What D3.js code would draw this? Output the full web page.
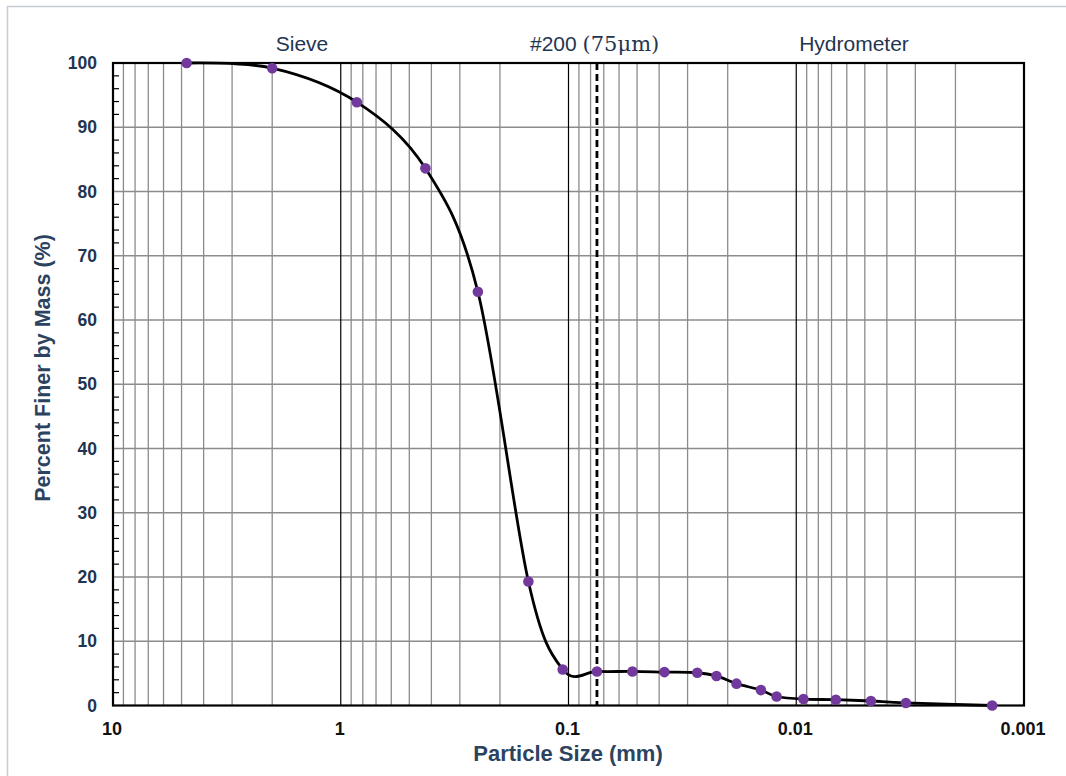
<!DOCTYPE html>
<html>
<head>
<meta charset="utf-8">
<script src="https://cdn.jsdelivr.net/npm/d3@7"></script>
<style>
  body { margin: 0; background: #fff; }
  svg { display: block; font-family: "Liberation Sans", Arial, sans-serif; }
</style>
</head>
<body>
<svg id="chart" width="1066" height="776"></svg>
<script>
// grain size distribution (sieve + hydrometer)
const sizes = [4.75, 2.0, 0.85, 0.425, 0.25, 0.15, 0.106, 0.075,
  0.0524, 0.0379, 0.0272, 0.0224, 0.0183, 0.0143, 0.0122,
  0.0093, 0.0067, 0.0047, 0.0033, 0.00138];
const percentFiner = [100, 99.2, 93.9, 83.6, 64.4, 19.3, 5.6, 5.3,
  5.3, 5.2, 5.1, 4.6, 3.4, 2.4, 1.4,
  1.0, 0.9, 0.7, 0.4, 0];

const xTicks = [10, 1, 0.1, 0.01, 0.001];
const xTickLabels = ["10", "1", "0.1", "0.01", "0.001"];
const yTicks = [0, 10, 20, 30, 40, 50, 60, 70, 80, 90, 100];
const no200 = 0.075;

const svg = d3.select("#chart");
const plotL = 113, plotR = 1024, plotT = 63, plotB = 705.5;

const x = d3.scaleLog().domain([10, 0.001]).range([plotL, plotR]);
const y = d3.scaleLinear().domain([0, 100]).range([plotB, plotT]);

const navy = "#1f3550";

// outer frame
svg.append("rect")
  .attr("x", 7.5).attr("y", 6.5)
  .attr("width", 1080).attr("height", 790)
  .attr("fill", "none").attr("stroke", "#c8ccd4").attr("stroke-width", 1.5);

// vertical grid (minor log lines)
const minor = [];
[1, 0.1, 0.01, 0.001].forEach((k) => {
  for (let m = 2; m <= 9; m++) minor.push(m * k);
});
svg.append("g")
  .selectAll("line")
  .data(minor)
  .join("line")
  .attr("x1", (d) => x(d)).attr("x2", (d) => x(d))
  .attr("y1", plotT).attr("y2", plotB)
  .attr("stroke", "#8c8c8c").attr("stroke-width", 1.3);

// horizontal grid
svg.append("g")
  .selectAll("line")
  .data(yTicks.slice(1, -1))
  .join("line")
  .attr("x1", plotL).attr("x2", plotR)
  .attr("y1", (d) => y(d)).attr("y2", (d) => y(d))
  .attr("stroke", "#8c8c8c").attr("stroke-width", 1.3);

// decade lines
svg.append("g")
  .selectAll("line")
  .data([1, 0.1, 0.01])
  .join("line")
  .attr("x1", (d) => x(d)).attr("x2", (d) => x(d))
  .attr("y1", plotT).attr("y2", plotB)
  .attr("stroke", "#000").attr("stroke-width", 1.2);

// y minor ticks (every 2%)
svg.append("g")
  .selectAll("line")
  .data(d3.range(2, 100, 2).filter((d) => d % 10 !== 0))
  .join("line")
  .attr("x1", plotL).attr("x2", plotL + 6)
  .attr("y1", (d) => y(d)).attr("y2", (d) => y(d))
  .attr("stroke", "#000").attr("stroke-width", 1.2);

// #200 sieve line
svg.append("line")
  .attr("x1", x(no200)).attr("x2", x(no200))
  .attr("y1", plotT).attr("y2", plotB)
  .attr("stroke", "#000").attr("stroke-width", 2.8)
  .attr("stroke-dasharray", "7,4");

// plot border
svg.append("rect")
  .attr("x", plotL).attr("y", plotT)
  .attr("width", plotR - plotL).attr("height", plotB - plotT)
  .attr("fill", "none").attr("stroke", "#000").attr("stroke-width", 2.2);

// gradation curve
const pts = sizes.map((s, i) => [x(s), y(percentFiner[i])]);
svg.append("path")
  .datum(pts)
  .attr("fill", "none")
  .attr("stroke", "#000")
  .attr("stroke-width", 2.8)
  .attr("d", d3.line().curve(d3.curveCardinal.tension(0)));

svg.append("g")
  .selectAll("circle")
  .data(pts)
  .join("circle")
  .attr("cx", (d) => d[0]).attr("cy", (d) => d[1])
  .attr("r", 5.3)
  .attr("fill", "#71399b");

// y tick labels
svg.append("g")
  .selectAll("text")
  .data(yTicks)
  .join("text")
  .attr("x", 97).attr("y", (d) => y(d) + 6)
  .attr("text-anchor", "end")
  .attr("font-size", 17.5).attr("font-weight", "bold")
  .attr("fill", navy)
  .text((d) => d);

// x tick labels
svg.append("g")
  .selectAll("text")
  .data(xTicks)
  .join("text")
  .attr("x", (d) => x(d) - 1).attr("y", 735)
  .attr("text-anchor", "middle")
  .attr("font-size", 18).attr("font-weight", "bold")
  .attr("fill", "#111")
  .text((d, i) => xTickLabels[i]);

// axis titles
svg.append("text")
  .attr("x", 568).attr("y", 761)
  .attr("text-anchor", "middle")
  .attr("font-size", 22).attr("font-weight", "bold")
  .attr("fill", "#2c4360")
  .text("Particle Size (mm)");

svg.append("text")
  .attr("transform", "translate(50,368) rotate(-90)")
  .attr("text-anchor", "middle")
  .attr("font-size", 21.5).attr("font-weight", "bold")
  .attr("fill", "#2c4360")
  .text("Percent Finer by Mass (%)");

// zone labels on top
svg.append("text")
  .attr("x", 302).attr("y", 51)
  .attr("text-anchor", "middle")
  .attr("font-size", 21).attr("fill", navy)
  .text("Sieve");

svg.append("text")
  .attr("x", 854).attr("y", 51)
  .attr("text-anchor", "middle")
  .attr("font-size", 21).attr("fill", navy)
  .text("Hydrometer");

const t200 = svg.append("text")
  .attr("x", 530).attr("y", 51)
  .attr("font-size", 21).attr("fill", navy);
t200.append("tspan").text("#200 ");
t200.append("tspan")
  .attr("font-family", "'DejaVu Serif', 'Liberation Serif', serif")
  .text("(75\u03bcm)");
</script>
</body>
</html>
